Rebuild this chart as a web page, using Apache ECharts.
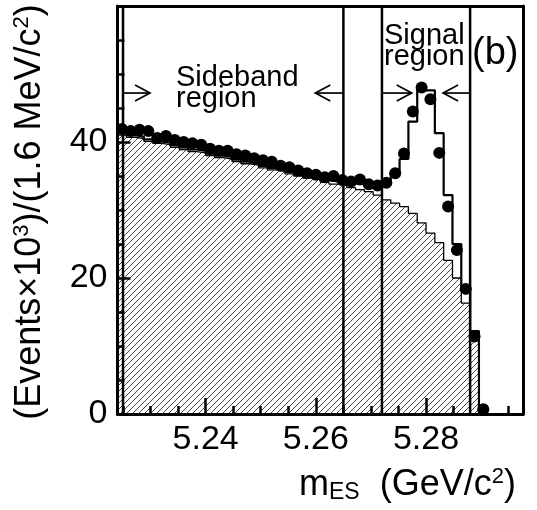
<!DOCTYPE html>
<html><head><meta charset="utf-8">
<script src="https://cdn.jsdelivr.net/npm/echarts@6/dist/echarts.min.js"></script>
<style>html,body{margin:0;padding:0;background:#fff}#c{width:537px;height:510px}</style>
</head><body><div id="c"></div>
<script>
// ---- data (bins of 1.6 MeV starting at 5.224 GeV) ----
const binLow = 5.224;
const binWidth = 0.0016;
// data points (x10^3 events per bin)
const dataValues = [41.9, 41.6, 41.8, 41.6, 40.6, 40.9, 40.3, 40.0, 39.8, 39.6,
  39.0, 38.7, 38.7, 38.2, 38.0, 37.6, 37.3, 37.1, 36.5, 36.3,
  35.8, 35.4, 35.2, 34.8, 35.0, 34.4, 34.2, 34.5, 33.8, 33.6,
  34.0, 35.4, 38.3, 44.5, 48.0, 46.3, 38.4, 30.5, 24.1, 18.4,
  11.4, 0.7];
// background (hatched) histogram
const backgroundValues = [41.0, 40.7, 40.5, 40.1, 39.8, 39.6, 39.2, 38.9, 38.6, 38.4,
  38.0, 37.7, 37.5, 37.1, 36.8, 36.6, 36.2, 35.9, 35.7, 35.3,
  35.0, 34.7, 34.5, 34.1, 33.8, 33.6, 33.3, 33.0, 32.7, 32.2,
  31.5, 31.0, 30.5, 29.5, 28.1, 26.6, 25.2, 22.6, 20.0, 16.3,
  11.9];
// total fit histogram
const fitValues = [41.3, 41.0, 40.8, 40.4, 40.1, 39.9, 39.5, 39.2, 38.9, 38.7,
  38.3, 38.0, 37.8, 37.4, 37.1, 36.9, 36.5, 36.2, 36.0, 35.6,
  35.3, 35.0, 34.8, 34.4, 34.2, 34.0, 33.9, 33.8, 33.8, 33.9,
  34.2, 35.4, 37.5, 43.0, 47.6, 47.6, 41.3, 32.2, 25.0, 18.7,
  12.2];
const xMajorTicks = [5.24, 5.26, 5.28];
const xMinorTicks = [5.225, 5.23, 5.235, 5.245, 5.25, 5.255, 5.265, 5.27, 5.275, 5.285, 5.29, 5.295];
const regionLines = [5.225, 5.265, 5.272, 5.288];
// arrows: [from, to(tip), y]
const arrows = [[5.2251, 5.2299, 47.2], [5.2649, 5.2599, 47.2], [5.2721, 5.2774, 47.2], [5.2879, 5.2831, 47.2]];

const xMin = binLow, xMax = binLow + 46 * binWidth;
const FONT = '"Liberation Sans", Arial, Helvetica, sans-serif';

function stepData(vals, dropToZero) {
  const out = vals.map((v, k) => [binLow + k * binWidth, v]);
  const n = vals.length;
  out.push([binLow + n * binWidth, vals[n - 1]]);
  if (dropToZero) out.push([binLow + n * binWidth, 0]);
  return out;
}
const pointData = dataValues.map((v, k) => [binLow + (k + 0.5) * binWidth, v]);

// hatch pattern
const pc = document.createElement('canvas');
pc.width = 6; pc.height = 6;
const g = pc.getContext('2d');
g.strokeStyle = '#333'; g.lineWidth = 0.9;
g.beginPath();
g.moveTo(-1, 7); g.lineTo(7, -1);
g.moveTo(-1, 1); g.lineTo(1, -1);
g.moveTo(5, 7); g.lineTo(7, 5);
g.stroke();

const chart = echarts.init(document.getElementById('c'), null, {renderer: 'canvas'});
const grid = {left: 117.5, top: 6, width: 405.5, height: 408};
const axisBase = {type: 'value', min: xMin, max: xMax, z: 10};
chart.setOption({
  animation: false,
  backgroundColor: '#fff',
  grid: grid,
  xAxis: [
    Object.assign({}, axisBase, {position: 'bottom',
      axisLine: {show: true, lineStyle: {color: '#000', width: 3}},
      axisTick: {show: true, inside: true, length: 16, lineStyle: {color: '#000', width: 2.5}, customValues: xMajorTicks},
      axisLabel: {show: true, customValues: xMajorTicks, formatter: v => v.toFixed(2), color: '#000', fontSize: 34, fontFamily: FONT, margin: 9},
      splitLine: {show: false}}),
    Object.assign({}, axisBase, {position: 'bottom',
      axisLine: {show: false},
      axisTick: {show: true, inside: true, length: 8, lineStyle: {color: '#000', width: 2.5}, customValues: xMinorTicks},
      axisLabel: {show: false}, splitLine: {show: false}}),
    Object.assign({}, axisBase, {position: 'top',
      axisLine: {show: true, lineStyle: {color: '#000', width: 3}},
      axisTick: {show: false}, axisLabel: {show: false}, splitLine: {show: false}})
  ],
  yAxis: [
    {type: 'value', min: 0, max: 60, interval: 20, position: 'left', z: 10,
      axisLine: {show: true, lineStyle: {color: '#000', width: 3}},
      axisTick: {show: true, inside: true, length: 13, lineStyle: {color: '#000', width: 2.5}},
      minorTick: {show: true, splitNumber: 4, length: 7, lineStyle: {color: '#000', width: 2.5}},
      axisLabel: {show: true, color: '#000', fontSize: 34, fontFamily: FONT, margin: 10, showMaxLabel: false},
      splitLine: {show: false}},
    {type: 'value', min: 0, max: 60, position: 'right', z: 10,
      axisLine: {show: true, lineStyle: {color: '#000', width: 3}},
      axisTick: {show: false}, axisLabel: {show: false}, splitLine: {show: false}}
  ],
  series: [
    {type: 'line', name: 'background', step: 'end', data: stepData(backgroundValues, true),
      symbol: 'none', clip: true, z: 2,
      lineStyle: {color: '#000', width: 1.3},
      areaStyle: {color: {image: pc, repeat: 'repeat'}, opacity: 1}},
    {type: 'line', name: 'fit', step: 'end', data: stepData(fitValues, true),
      symbol: 'none', clip: true, z: 3,
      lineStyle: {color: '#000', width: 2.2}},
    {type: 'custom', name: 'regions', data: regionLines.map(x => [x]), z: 4, clip: true,
      renderItem: function (params, api) {
        const a = api.coord([api.value(0), 0]);
        const b = api.coord([api.value(0), 60]);
        return {type: 'line', shape: {x1: a[0], y1: a[1], x2: b[0], y2: b[1]}, style: {stroke: '#000', lineWidth: 2.5}};
      }},
    {type: 'scatter', name: 'data', data: pointData, symbol: 'circle', symbolSize: 12,
      itemStyle: {color: '#000', opacity: 1}, z: 5},
    {type: 'custom', name: 'arrows', data: arrows, z: 6,
      renderItem: function (params, api) {
        const p0 = api.coord([api.value(0), api.value(2)]);
        const p1 = api.coord([api.value(1), api.value(2)]);
        const d = Math.sign(p1[0] - p0[0]);
        return {type: 'group', children: [
          {type: 'line', shape: {x1: p0[0], y1: p0[1], x2: p1[0], y2: p1[1]}, style: {stroke: '#000', lineWidth: 1.7}},
          {type: 'polyline', shape: {points: [[p1[0] - d * 15, p1[1] - 8], [p1[0], p1[1]], [p1[0] - d * 15, p1[1] + 8]]},
            style: {stroke: '#000', fill: null, lineWidth: 1.7}}
        ]};
      }}
  ],
  graphic: [
    {type: 'text', left: 176, top: 63, style: {text: 'Sideband\nregion', font: '29px ' + FONT, lineHeight: 21, fill: '#000'}},
    {type: 'text', left: 384, top: 21, style: {text: 'Signal\nregion', font: '29px ' + FONT, lineHeight: 21, fill: '#000'}},
    {type: 'text', left: 472, top: 35, style: {text: '(b)', font: '38px ' + FONT, fill: '#000'}},
    {type: 'text', x: 30, y: 212, rotation: Math.PI / 2,
      style: {text: '(Events×10{sup|3})/(1.6 MeV/c{sup|2})', align: 'center', verticalAlign: 'middle',
        font: '36px ' + FONT, fill: '#000',
        rich: {sup: {font: '22px ' + FONT, padding: [0, 0, 16, 0]}}}},
    {type: 'text', left: 299, top: 466,
      style: {text: 'm{sub|ES}  (GeV/c{sup|2})', font: '36px ' + FONT, fill: '#000',
        rich: {sub: {font: '23px ' + FONT, padding: [16, 0, 0, 0]}, sup: {font: '22px ' + FONT, padding: [0, 0, 16, 0]}}}}
  ]
});
</script></body></html>
